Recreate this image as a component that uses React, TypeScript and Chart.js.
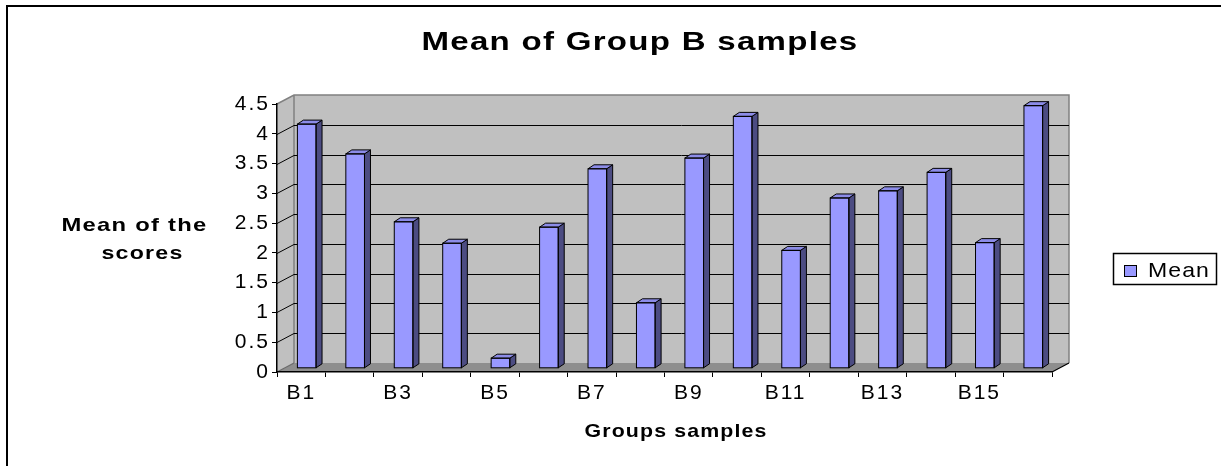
import React, { useEffect, useRef } from 'react';
import { Chart, registerables } from 'chart.js';

Chart.register(...registerables);

// ---------- data ----------
const categories = ['B1', 'B2', 'B3', 'B4', 'B5', 'B6', 'B7', 'B8', 'B9', 'B10', 'B11', 'B12', 'B13', 'B14', 'B15', 'B16'];
const meanValues = [4.1, 3.6, 2.46, 2.1, 0.17, 2.37, 3.35, 1.1, 3.53, 4.23, 1.98, 2.86, 2.98, 3.29, 2.11, 4.41];
const seriesName = 'Mean';
const yMin = 0;
const yMax = 4.5;
const yStep = 0.5;
const chartTitle = 'Mean of Group B samples';
const yTitleLines = ['Mean of the', 'scores'];
const xTitle = 'Groups samples';

// ---------- layout / style ----------
const W = 1221;
const H = 466;
const PLOT_L = 277;
const PLOT_R = 1052;
const PLOT_T = 104;
const PLOT_B = 372;
const WALL_DX = 17;
const WALL_DY = -9;
const BAR_SHIFT_X = 5.5;
const BAR_SHIFT_Y = -3.7;
const BAR_DX = 6;
const BAR_DY = -4;
const FONT = "'Liberation Sans', Arial, sans-serif";
const BAR_FRONT = '#9999FF';
const BAR_SIDE = '#4C4C82';
const BAR_TOP = '#8C8CE8';
const WALL = '#C0C0C0';
const FLOOR = '#8E8E8E';

// draws text horizontally stretched to a measured width (the original is a widened render)
function drawFit(
  ctx: CanvasRenderingContext2D,
  text: string,
  x: number,
  y: number,
  font: string,
  width: number,
  align: 'center' | 'left'
) {
  ctx.save();
  ctx.font = font;
  (ctx as any).letterSpacing = '1px';
  const w = ctx.measureText(text).width;
  const sx = width / w;
  ctx.translate(x, y);
  ctx.scale(sx, 1);
  ctx.textAlign = align;
  ctx.textBaseline = 'alphabetic';
  ctx.fillStyle = '#000';
  ctx.fillText(text, 0, 0);
  ctx.restore();
}

const threeDPlugin = {
  id: 'threeD',
  beforeDraw(chart: any) {
    const ctx: CanvasRenderingContext2D = chart.ctx;
    const a = chart.chartArea;
    const ys = chart.scales.y;
    const L = a.left, R = a.right, T = a.top, B = a.bottom;
    ctx.save();
    ctx.fillStyle = '#fff';
    ctx.fillRect(0, 0, chart.width, chart.height);

    // outer frame
    ctx.strokeStyle = '#000';
    ctx.lineWidth = 2;
    ctx.beginPath();
    ctx.moveTo(7, chart.height + 4);
    ctx.lineTo(7, 6);
    ctx.lineTo(chart.width + 4, 6);
    ctx.stroke();

    // left wall
    ctx.fillStyle = WALL;
    ctx.beginPath();
    ctx.moveTo(L, T);
    ctx.lineTo(L + WALL_DX, T + WALL_DY);
    ctx.lineTo(L + WALL_DX, B + WALL_DY);
    ctx.lineTo(L, B);
    ctx.closePath();
    ctx.fill();
    // back wall
    ctx.fillRect(L + WALL_DX, T + WALL_DY, R - L, B - T);
    // floor
    ctx.fillStyle = FLOOR;
    ctx.beginPath();
    ctx.moveTo(L, B);
    ctx.lineTo(R, B);
    ctx.lineTo(R + WALL_DX, B + WALL_DY);
    ctx.lineTo(L + WALL_DX, B + WALL_DY);
    ctx.closePath();
    ctx.fill();

    // wall edges
    ctx.strokeStyle = '#808080';
    ctx.lineWidth = 1.5;
    ctx.beginPath();
    ctx.moveTo(L, T);
    ctx.lineTo(L + WALL_DX, T + WALL_DY);
    ctx.lineTo(R + WALL_DX, T + WALL_DY);
    ctx.lineTo(R + WALL_DX, B + WALL_DY);
    ctx.moveTo(L + WALL_DX, T + WALL_DY);
    ctx.lineTo(L + WALL_DX, B + WALL_DY);
    ctx.stroke();

    // 3D gridlines
    ctx.strokeStyle = '#000';
    ctx.lineWidth = 1;
    for (let v = yMin + yStep; v < yMax - 1e-9; v += yStep) {
      const py = Math.round(ys.getPixelForValue(v)) + 0.5;
      ctx.beginPath();
      ctx.moveTo(L, py);
      ctx.lineTo(L + WALL_DX, py + WALL_DY);
      ctx.lineTo(R + WALL_DX, py + WALL_DY);
      ctx.stroke();
    }
    // floor edges
    ctx.lineWidth = 1.2;
    ctx.beginPath();
    ctx.moveTo(R, B);
    ctx.lineTo(R + WALL_DX, B + WALL_DY);
    ctx.stroke();
    ctx.strokeStyle = '#6a6a6a';
    ctx.beginPath();
    ctx.moveTo(L, B);
    ctx.lineTo(L + WALL_DX, B + WALL_DY);
    ctx.stroke();

    // titles
    drawFit(ctx, chartTitle, 640, 50, `bold 26px ${FONT}`, 437, 'center');
    drawFit(ctx, yTitleLines[0], 134.5, 231, `bold 19px ${FONT}`, 146, 'center');
    drawFit(ctx, yTitleLines[1], 142.5, 259, `bold 19px ${FONT}`, 82, 'center');
    drawFit(ctx, xTitle, 676, 437, `bold 19px ${FONT}`, 183, 'center');

    // legend
    ctx.strokeStyle = '#000';
    ctx.lineWidth = 1.5;
    ctx.strokeRect(1113.5, 253.5, 103, 31);
    ctx.fillStyle = BAR_FRONT;
    ctx.fillRect(1124.5, 265.5, 12, 11);
    ctx.lineWidth = 1;
    ctx.strokeRect(1124.5, 265.5, 12, 11);
    drawFit(ctx, seriesName, 1148, 277, `21px ${FONT}`, 62, 'left');
    ctx.restore();

    // letter spacing for the axis tick labels drawn next by the library
    (ctx as any).letterSpacing = '2px';
  },
  beforeDatasetsDraw(chart: any) {
    const ctx: CanvasRenderingContext2D = chart.ctx;
    ctx.save();
    ctx.translate(BAR_SHIFT_X, BAR_SHIFT_Y);
  },
  afterDatasetsDraw(chart: any) {
    const ctx: CanvasRenderingContext2D = chart.ctx;
    const meta = chart.getDatasetMeta(0);
    ctx.lineWidth = 1;
    ctx.strokeStyle = '#000';
    meta.data.forEach((bar: any) => {
      const p = bar.getProps(['x', 'y', 'base', 'width'], true);
      const left = p.x - p.width / 2;
      const right = p.x + p.width / 2;
      const top = p.y;
      const base = p.base;
      // side face
      ctx.fillStyle = BAR_SIDE;
      ctx.beginPath();
      ctx.moveTo(right, top);
      ctx.lineTo(right + BAR_DX, top + BAR_DY);
      ctx.lineTo(right + BAR_DX, base + BAR_DY);
      ctx.lineTo(right, base);
      ctx.closePath();
      ctx.fill();
      ctx.stroke();
      // top face
      ctx.fillStyle = BAR_TOP;
      ctx.beginPath();
      ctx.moveTo(left, top);
      ctx.lineTo(left + BAR_DX, top + BAR_DY);
      ctx.lineTo(right + BAR_DX, top + BAR_DY);
      ctx.lineTo(right, top);
      ctx.closePath();
      ctx.fill();
      ctx.stroke();
      // front outline
      ctx.strokeRect(left, top, right - left, base - top);
    });
    ctx.restore();
  },
};

export default function App() {
  const ref = useRef<HTMLCanvasElement | null>(null);
  useEffect(() => {
    document.body.style.margin = '0';
    const canvas = ref.current;
    if (!canvas) return;
    const chart = new Chart(canvas, {
      type: 'bar',
      data: {
        labels: categories,
        datasets: [
          {
            label: seriesName,
            data: meanValues,
            backgroundColor: BAR_FRONT,
            borderColor: '#000',
            borderWidth: 0,
            barPercentage: 0.385,
            categoryPercentage: 1,
          },
        ],
      },
      options: {
        responsive: false,
        animation: false,
        devicePixelRatio: 1,
        layout: { padding: { left: 0, right: W - PLOT_R, top: PLOT_T, bottom: 0 } },
        plugins: {
          legend: { display: false },
          title: { display: false },
          tooltip: { enabled: false },
        },
        scales: {
          x: {
            type: 'category',
            offset: true,
            grid: { display: true, drawOnChartArea: false, drawTicks: true, tickLength: 5, color: '#000', offset: true },
            border: { display: true, color: '#000', width: 1.5 },
            ticks: {
              autoSkip: false,
              maxRotation: 0,
              minRotation: 0,
              padding: 4,
              color: '#000',
              font: { family: FONT, size: 21 },
              callback: (_v: any, i: number) => (i % 2 === 0 ? categories[i] : ''),
            },
            afterFit: (s: any) => {
              s.height = H - PLOT_B;
            },
          },
          y: {
            type: 'linear',
            min: yMin,
            max: yMax,
            grid: { display: true, drawOnChartArea: false, drawTicks: true, tickLength: 5, color: '#000' },
            border: { display: true, color: '#000', width: 1.5 },
            ticks: {
              stepSize: yStep,
              padding: 2,
              color: '#000',
              font: { family: FONT, size: 21 },
              callback: (v: any) => String(Math.round(Number(v) * 10) / 10),
            },
            afterFit: (s: any) => {
              s.width = PLOT_L;
            },
          },
        },
      },
      plugins: [threeDPlugin],
    });
    return () => chart.destroy();
  }, []);
  return (
    <div style={{ position: 'absolute', left: 0, top: 0, width: W, height: H }}>
      <canvas ref={ref} width={W} height={H} style={{ width: W, height: H, display: 'block' }} />
    </div>
  );
}
